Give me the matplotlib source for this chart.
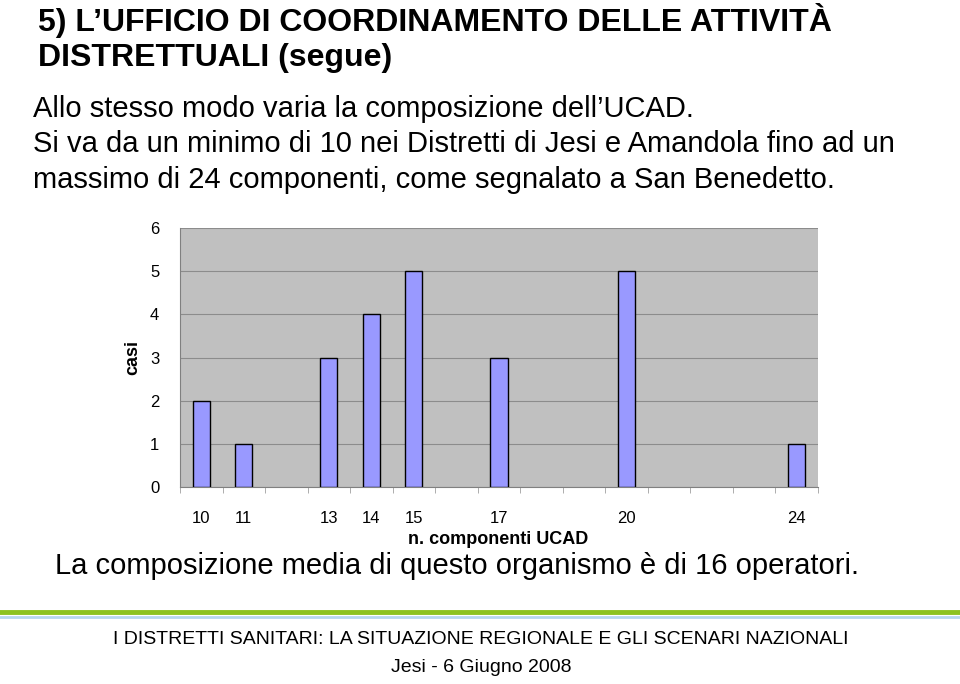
import numpy as np
import matplotlib.pyplot as plt
from matplotlib.lines import Line2D
from matplotlib import font_manager

# data
componenti = [10, 11, 12, 13, 14, 15, 16, 17, 18, 19, 20, 21, 22, 23, 24]
casi = [2, 1, 0, 3, 4, 5, 0, 3, 0, 0, 5, 0, 0, 0, 1]
labels_shown = [10, 11, 13, 14, 15, 17, 20, 24]

title_lines = ["5) L\u2019UFFICIO DI COORDINAMENTO DELLE ATTIVIT\u00c0",
               "DISTRETTUALI (segue)"]
body_lines = ["Allo stesso modo varia la composizione dell\u2019UCAD.",
              "Si va da un minimo di 10 nei Distretti di Jesi e Amandola fino ad un",
              "massimo di 24 componenti, come segnalato a San Benedetto."]
conclusion = "La composizione media di questo organismo \u00e8 di 16 operatori."
footer_lines = ["I DISTRETTI SANITARI: LA SITUAZIONE REGIONALE E GLI SCENARI NAZIONALI",
                "Jesi - 6 Giugno 2008"]

plt.rcParams['font.family'] = ['Liberation Sans', 'DejaVu Sans']

# condensed font for the footer if there is one
names = set(f.name for f in font_manager.fontManager.ttflist)
if 'Liberation Sans Narrow' in names:
    footer_family, footer_size = 'Liberation Sans Narrow', 17
else:
    footer_family, footer_size = 'Liberation Sans', 14

W, H = 960, 684
fig = plt.figure(figsize=(W / 100, H / 100), dpi=100)
fig.patch.set_facecolor('white')

def fy(y):
    return 1 - y / H

# header
fig.text(38 / W, fy(21), title_lines[0], fontsize=23, fontweight='bold', va='center')
fig.text(38 / W, fy(58), title_lines[1], fontsize=23, fontweight='bold', va='center')
for y, line in zip([109, 144, 180], body_lines):
    fig.text(33 / W, fy(y), line, fontsize=21, va='center')

# chart
ax = fig.add_axes([180 / W, fy(487), (818 - 180) / W, (487 - 228) / H])
ax.set_facecolor('#C0C0C0')
x = np.array(componenti)
y = np.array(casi)
nz = y > 0
ax.bar(x[nz], y[nz], width=0.4, color='#9999FF', edgecolor='black',
       linewidth=1, zorder=3)
ax.set_xlim(componenti[0] - 0.5, componenti[-1] + 0.5)
ax.set_ylim(0, 6)
ax.set_yticks(range(0, 7))
ax.yaxis.grid(True, color='#8c8c8c', linewidth=0.8, zorder=0)
ax.set_xticks(labels_shown)
ax.set_xticklabels([str(v) for v in labels_shown])
ax.set_xticks(np.arange(componenti[0] - 0.5, componenti[-1] + 1, 1), minor=True)
ax.tick_params(axis='x', which='major', length=0, pad=17, labelsize=12)
ax.tick_params(axis='x', which='minor', length=4, color='#a0a0a0', direction='out')
ax.tick_params(axis='y', length=0, pad=15, labelsize=12)
for side in ['top', 'right']:
    ax.spines[side].set_visible(False)
ax.spines['left'].set_color('#808080')
ax.spines['bottom'].set_color('#808080')
ax.set_ylabel('casi', fontsize=13, fontweight='bold', labelpad=6)
fig.text(498 / W, fy(539), 'n. componenti UCAD', fontsize=13, fontweight='bold',
         ha='center', va='center')

fig.text(55 / W, fy(566), conclusion, fontsize=21, va='center')

# footer bars
fig.add_artist(Line2D([0, 1], [fy(612), fy(612)], color='#8DC21F', linewidth=3.5,
                      transform=fig.transFigure))
fig.add_artist(Line2D([0, 1], [fy(616.5), fy(616.5)], color='#B7D7EE', linewidth=2,
                      transform=fig.transFigure))
fig.text(481 / W, fy(639), footer_lines[0], fontsize=footer_size, ha='center',
         va='center', family=footer_family)
fig.text(481 / W, fy(668), footer_lines[1], fontsize=footer_size, ha='center',
         va='center', family=footer_family)

fig.savefig('out.png', dpi=100)
